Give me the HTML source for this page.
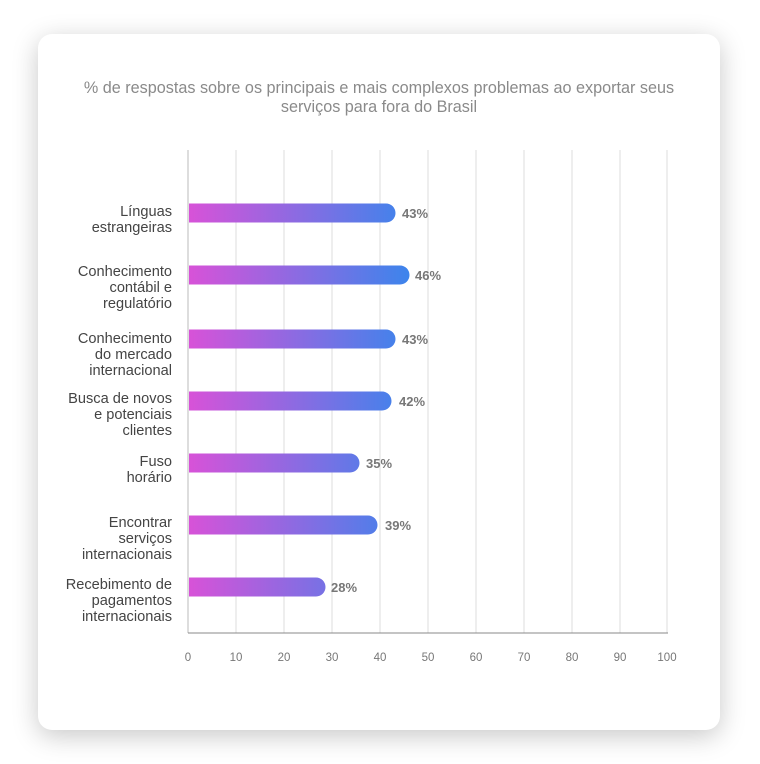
<!DOCTYPE html>
<html><head><meta charset="utf-8"><style>
html,body{margin:0;padding:0;background:#fff;}
.card{position:absolute;left:38px;top:34px;width:682px;height:696px;background:#fff;border-radius:14px;box-shadow:0 6px 26px rgba(0,0,0,0.22);}
svg{position:absolute;left:0;top:0;}
text{font-family:"Liberation Sans",sans-serif;}
</style></head><body>
<div class="card"></div>
<svg width="760" height="764" viewBox="0 0 760 764">
<defs>
<linearGradient id="g" gradientUnits="userSpaceOnUse" x1="188" y1="0" x2="412" y2="0">
<stop offset="0" stop-color="#d852d8"/><stop offset="1" stop-color="#3a85ec"/>
</linearGradient>
</defs>
<text x="379" y="93" text-anchor="middle" font-size="16.2" fill="#8a8a8a">% de respostas sobre os principais e mais complexos problemas ao exportar seus</text>
<text x="379" y="112" text-anchor="middle" font-size="16.2" fill="#8a8a8a">serviços para fora do Brasil</text>
<g stroke="#e8e8e8" stroke-width="1.5">
<line x1="236" y1="150" x2="236" y2="633"/><line x1="284" y1="150" x2="284" y2="633"/><line x1="332" y1="150" x2="332" y2="633"/><line x1="380" y1="150" x2="380" y2="633"/><line x1="428" y1="150" x2="428" y2="633"/><line x1="476" y1="150" x2="476" y2="633"/><line x1="524" y1="150" x2="524" y2="633"/><line x1="572" y1="150" x2="572" y2="633"/><line x1="620" y1="150" x2="620" y2="633"/><line x1="667" y1="150" x2="667" y2="633"/>
</g>
<line x1="188" y1="150" x2="188" y2="633" stroke="#ddd" stroke-width="2"/>
<line x1="188" y1="633" x2="668" y2="633" stroke="#888" stroke-width="1"/>
<g font-size="11.5" fill="#777" text-anchor="middle">
<text x="188" y="661">0</text><text x="236" y="661">10</text><text x="284" y="661">20</text><text x="332" y="661">30</text><text x="380" y="661">40</text><text x="428" y="661">50</text><text x="476" y="661">60</text><text x="524" y="661">70</text><text x="572" y="661">80</text><text x="620" y="661">90</text><text x="667" y="661">100</text>
</g>
<g fill="url(#g)">
<path d="M189 203.5 H386 a9.5 9.5 0 0 1 0 19 H189 Z"/>
<path d="M189 265.5 H400 a9.5 9.5 0 0 1 0 19 H189 Z"/>
<path d="M189 329.5 H386 a9.5 9.5 0 0 1 0 19 H189 Z"/>
<path d="M189 391.5 H382 a9.5 9.5 0 0 1 0 19 H189 Z"/>
<path d="M189 453.5 H350 a9.5 9.5 0 0 1 0 19 H189 Z"/>
<path d="M189 515.5 H368 a9.5 9.5 0 0 1 0 19 H189 Z"/>
<path d="M189 577.5 H316 a9.5 9.5 0 0 1 0 19 H189 Z"/>
</g>
<g font-size="13" font-weight="bold" fill="#777">
<text x="402" y="218">43%</text><text x="415" y="280">46%</text><text x="402" y="344">43%</text><text x="399" y="406">42%</text><text x="366" y="468">35%</text><text x="385" y="530">39%</text><text x="331" y="592">28%</text>
</g>
<g font-size="14.6" fill="#444" text-anchor="end">
<text x="172" y="216">Línguas</text><text x="172" y="232">estrangeiras</text>
<text x="172" y="276">Conhecimento</text><text x="172" y="292">contábil e</text><text x="172" y="308">regulatório</text>
<text x="172" y="343">Conhecimento</text><text x="172" y="359">do mercado</text><text x="172" y="375">internacional</text>
<text x="172" y="403">Busca de novos</text><text x="172" y="419">e potenciais</text><text x="172" y="435">clientes</text>
<text x="172" y="466">Fuso</text><text x="172" y="482">horário</text>
<text x="172" y="527">Encontrar</text><text x="172" y="543">serviços</text><text x="172" y="559">internacionais</text>
<text x="172" y="589">Recebimento de</text><text x="172" y="605">pagamentos</text><text x="172" y="621">internacionais</text>
</g>
</svg>
</body></html>
